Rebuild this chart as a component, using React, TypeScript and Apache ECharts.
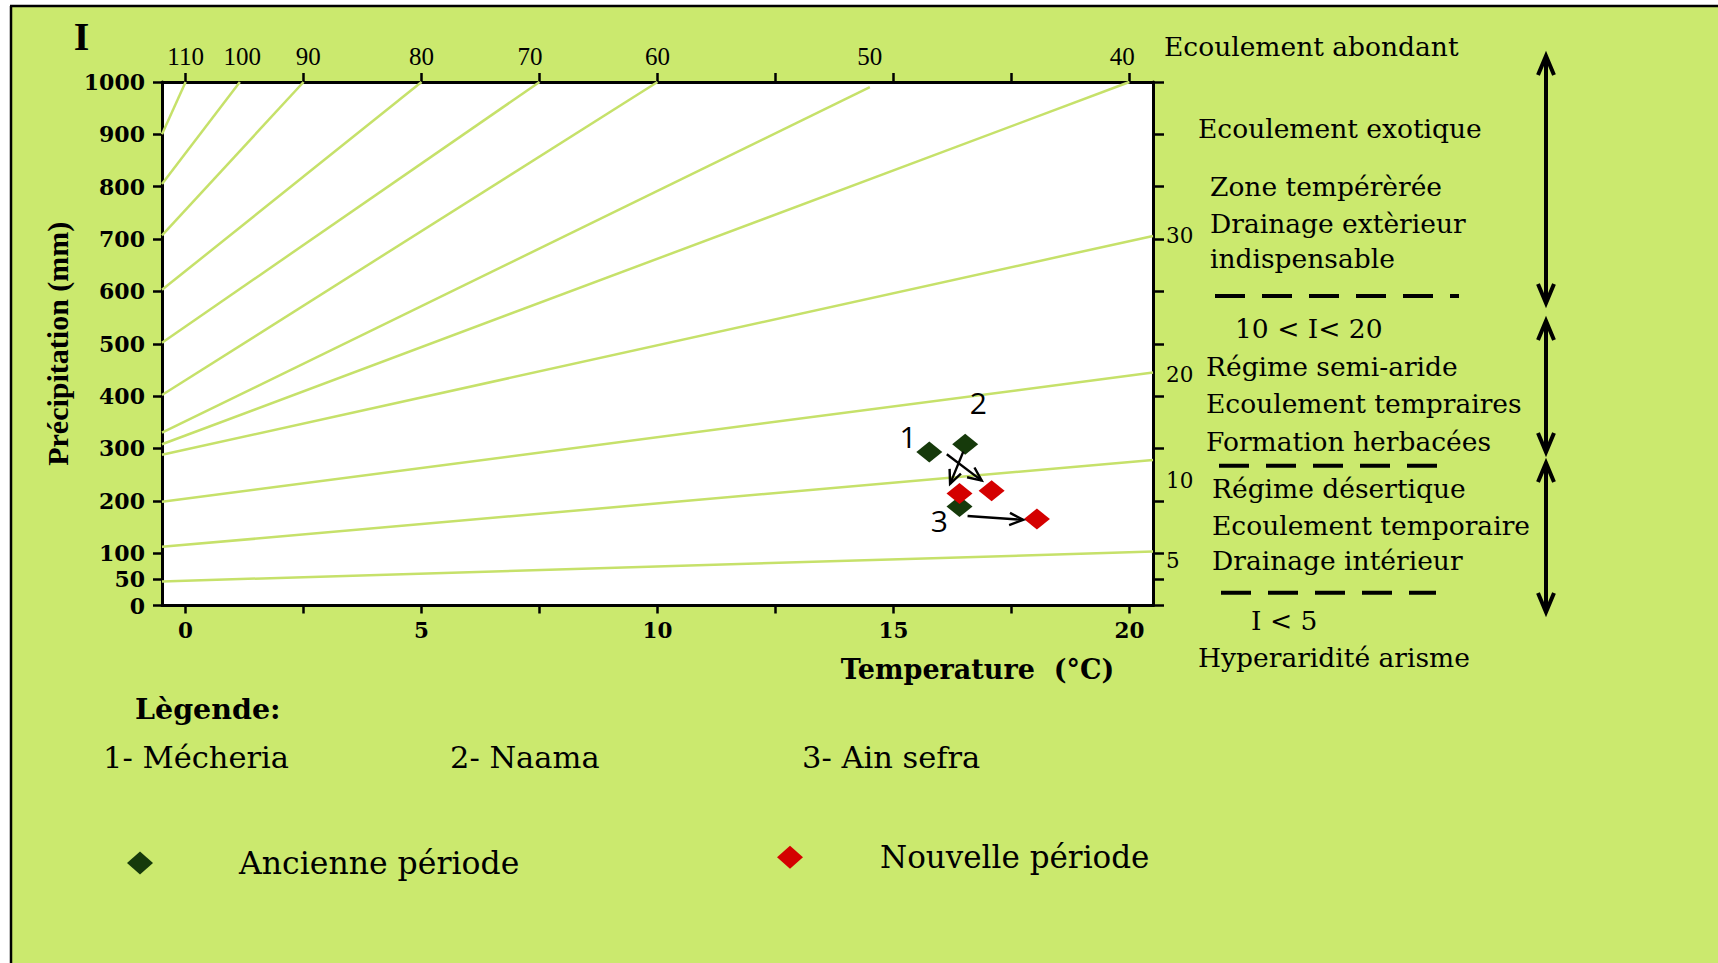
import React, { useEffect, useRef } from "react";
import * as echarts from "echarts";

// ---------- data ----------
const isoIndex = ["110", "100", "90", "80", "70", "60", "50", "40", "30", "20", "10", "5"];
const isoStart = [
  [-0.5, 900], [-0.5, 805], [-0.5, 707], [-0.5, 603], [-0.5, 502], [-0.5, 402],
  [-0.5, 330], [-0.5, 308], [-0.5, 288], [-0.5, 198], [-0.5, 112], [-0.5, 46],
];
const isoEnd = [
  [0, 1000], [1.15, 1000], [2.5, 1000], [5, 1000], [7.5, 1000], [10, 1000],
  [14.5, 990], [20, 1000], [20.5, 706], [20.5, 445], [20.5, 278], [20.5, 103],
];

const stationIds = ["1", "2", "3"];
const stationNames = ["1- Mécheria", "2- Naama", "3- Ain sefra"];
const ancienT = [15.76, 16.52, 16.40];
const ancienP = [293, 308, 189];
const nouvelleT = [17.08, 16.40, 18.04];
const nouvelleP = [219, 214, 165];
const idLabelT = [15.31, 16.8, 15.97];
const idLabelP = [323, 388, 162];
const arrowFrom = [[16.13, 289], [16.48, 294], [16.57, 171]];
const arrowTo = [[16.87, 238.6], [16.2, 232.3], [17.75, 163.5]];

const xTicks = [0, 2.5, 5, 7.5, 10, 12.5, 15, 17.5, 20];
const xLabels = [0, 5, 10, 15, 20];
const yTicks = [0, 50, 100, 200, 300, 400, 500, 600, 700, 800, 900, 1000];
const topLabelPos = [0, 1.2, 2.6, 5, 7.3, 10, 14.5, 19.85];
const topLabelText = ["110", "100", "90", "80", "70", "60", "50", "40"];
const rightLabelPos = [706, 441, 238, 86];
const rightLabelText = ["30", "20", "10", "5"];

const seriesNames = ["Ancienne période", "Nouvelle période"];

const zoneNotes = [
  "Ecoulement abondant",
  "Ecoulement exotique",
  "Zone tempérèrée",
  "Drainage extèrieur",
  "indispensable",
  "10 < I< 20",
  "Régime semi-aride",
  "Ecoulement tempraires",
  "Formation herbacées",
  "Régime désertique",
  "Ecoulement temporaire",
  "Drainage intérieur",
  "I < 5",
  "Hyperaridité arisme",
];

// ---------- layout / style ----------
const SERIF = "DejaVu Serif";
const TIMES = "Liberation Serif";
const BG = "#cbe96e";
const ISO = "#c6e16a";
const DARK = "#163a0b";
const RED = "#d40000";

const notePos = [
  [1164, 46], [1198, 128.5], [1210, 186], [1210, 223.5], [1210, 258.5],
  [1235, 328], [1206, 366], [1206, 403.5], [1206, 441], [1212, 488.5],
  [1212, 525.5], [1212, 560.5], [1251, 620.5], [1198, 657.5],
];
const stationLabelPos = [[103, 757.5], [450, 757.5], [802, 757.5]];

function buildOption() {
  const isoSeries = isoIndex.map((name, i) => ({
    type: "line",
    name: "I=" + name,
    data: [isoStart[i], isoEnd[i]],
    showSymbol: false,
    symbol: "none",
    silent: true,
    lineStyle: { color: ISO, width: 2.5 },
    z: 1,
  }));

  const graphics: any[] = [
    { type: "rect", z: -10, shape: { x: 11, y: 6, width: 1707, height: 957 }, style: { fill: BG } },
    { type: "line", z: 5, shape: { x1: 10, y1: 6, x2: 1718, y2: 6 }, style: { stroke: "#000", lineWidth: 2.5 } },
    { type: "line", z: 5, shape: { x1: 11, y1: 6, x2: 11, y2: 963 }, style: { stroke: "#000", lineWidth: 2.5 } },
    {
      type: "text", z: 5, x: 81.5, y: 36,
      style: { text: "I", font: `bold 40px "${TIMES}"`, fill: "#000", textAlign: "center", textVerticalAlign: "middle" },
    },
    {
      type: "text", z: 5, x: 135, y: 709,
      style: { text: "Lègende:", font: `bold 28.5px "${SERIF}"`, fill: "#000", textAlign: "left", textVerticalAlign: "middle" },
    },
  ];
  zoneNotes.forEach((t, i) => {
    graphics.push({
      type: "text", z: 5, x: notePos[i][0], y: notePos[i][1],
      style: { text: t, font: `26.5px "${SERIF}"`, fill: "#000", textAlign: "left", textVerticalAlign: "middle" },
    });
  });
  stationNames.forEach((t, i) => {
    graphics.push({
      type: "text", z: 5, x: stationLabelPos[i][0], y: stationLabelPos[i][1],
      style: { text: t, font: `30.5px "${SERIF}"`, fill: "#000", textAlign: "left", textVerticalAlign: "middle" },
    });
  });
  // dashed separators
  [[1215, 1459, 296], [1219, 1439, 465.7], [1221, 1436, 592.7]].forEach(([x1, x2, y]) => {
    graphics.push({
      type: "line", z: 5, shape: { x1, y1: y, x2, y2: y },
      style: { stroke: "#000", lineWidth: 4, lineDash: [30, 17] },
    });
  });
  // vertical double arrows
  const ax = 1546;
  [[56, 303], [321, 452], [463, 612]].forEach(([t, b]) => {
    graphics.push({ type: "line", z: 5, shape: { x1: ax, y1: t + 1, x2: ax, y2: b - 1 }, style: { stroke: "#000", lineWidth: 4 } });
    graphics.push({ type: "polyline", z: 5, shape: { points: [[ax - 8, t + 19], [ax, t], [ax + 8, t + 19]] }, style: { stroke: "#000", lineWidth: 4, fill: null } });
    graphics.push({ type: "polyline", z: 5, shape: { points: [[ax - 8, b - 19], [ax, b], [ax + 8, b - 19]] }, style: { stroke: "#000", lineWidth: 4, fill: null } });
  });

  const axisLine = { show: true, onZero: false, lineStyle: { color: "#000", width: 3 } };

  return {
    animation: false,
    backgroundColor: "#ffffff",
    grid: {
      left: 162, top: 82, width: 991, height: 523.5,
      show: true, backgroundColor: "#ffffff", borderWidth: 0,
      containLabel: false, outerBoundsMode: "none",
    },
    legend: [
      {
        data: [seriesNames[0]], left: 127, top: 847, padding: 0,
        icon: "diamond", itemWidth: 26, itemHeight: 23, selectedMode: false,
        itemStyle: { opacity: 1 },
        textStyle: { fontFamily: SERIF, fontSize: 31.5, color: "#000", padding: [20, 0, 0, 81] },
      },
      {
        data: [seriesNames[1]], left: 777, top: 841.7, padding: 0,
        icon: "diamond", itemWidth: 26, itemHeight: 23, selectedMode: false,
        itemStyle: { opacity: 1 },
        textStyle: { fontFamily: SERIF, fontSize: 31, color: "#000", padding: [9.4, 0, 0, 72] },
      },
    ],
    xAxis: [
      {
        type: "value", position: "bottom", min: -0.5, max: 20.5,
        axisLine, splitLine: { show: false },
        axisTick: { show: true, customValues: xTicks, length: 8, lineStyle: { color: "#000", width: 2.5 } },
        axisLabel: {
          customValues: xLabels, margin: 14, color: "#000",
          fontFamily: SERIF, fontWeight: "bold", fontSize: 21.5,
          formatter: (v: number) => String(v),
        },
        name: "Temperature  (°C)",
        nameLocation: "middle",
        nameGap: 50,
        nameTextStyle: {
          fontFamily: SERIF, fontWeight: "bold", fontSize: 27, color: "#000",
          padding: [0, 0, 0, 640],
        },
      },
      {
        type: "value", position: "top", min: -0.5, max: 20.5,
        axisLine, splitLine: { show: false },
        axisTick: { show: true, customValues: xTicks, length: 9, lineStyle: { color: "#000", width: 2.5 } },
        axisLabel: {
          customValues: topLabelPos, margin: 13, color: "#000",
          fontFamily: TIMES, fontSize: 25,
          formatter: (v: number) => topLabelText[topLabelPos.indexOf(v)] ?? "",
        },
      },
    ],
    yAxis: [
      {
        type: "value", position: "left", min: 0, max: 1000,
        axisLine, splitLine: { show: false },
        axisTick: { show: true, customValues: yTicks, length: 9, lineStyle: { color: "#000", width: 2.5 } },
        axisLabel: {
          customValues: yTicks, margin: 17, color: "#000",
          fontFamily: SERIF, fontWeight: "bold", fontSize: 22,
          formatter: (v: number) => String(v),
        },
        name: "Précipitation (mm)",
        nameLocation: "middle",
        nameRotate: 90,
        nameGap: 50,
        nameTextStyle: { fontFamily: TIMES, fontWeight: "bold", fontSize: 30, color: "#000" },
      },
      {
        type: "value", position: "right", min: 0, max: 1000,
        axisLine, splitLine: { show: false },
        axisTick: { show: true, customValues: yTicks, length: 11, lineStyle: { color: "#000", width: 2.5 } },
        axisLabel: {
          customValues: rightLabelPos, margin: 13, color: "#000",
          fontFamily: SERIF, fontSize: 21.5,
          formatter: (v: number) => rightLabelText[rightLabelPos.indexOf(v)] ?? "",
        },
      },
    ],
    graphic: graphics,
    series: [
      ...isoSeries,
      {
        type: "scatter",
        name: seriesNames[0],
        data: ancienT.map((t, i) => [t, ancienP[i]]),
        symbol: "diamond",
        symbolSize: [26, 21],
        itemStyle: { color: DARK, opacity: 1 },
        z: 3,
      },
      {
        type: "scatter",
        name: seriesNames[1],
        data: nouvelleT.map((t, i) => [t, nouvelleP[i]]),
        symbol: "diamond",
        symbolSize: [26, 21],
        itemStyle: { color: RED, opacity: 1 },
        z: 3,
      },
      {
        type: "custom",
        name: "arrows",
        data: arrowFrom.map((a, i) => [a[0], a[1], arrowTo[i][0], arrowTo[i][1]]),
        encode: { x: [0, 2], y: [1, 3] },
        silent: true,
        z: 4,
        renderItem: (params: any, api: any) => {
          const a = api.coord([api.value(0), api.value(1)]);
          const b = api.coord([api.value(2), api.value(3)]);
          const ang = Math.atan2(b[1] - a[1], b[0] - a[0]);
          const L = 15, w = 0.42;
          const h1 = [b[0] - L * Math.cos(ang - w), b[1] - L * Math.sin(ang - w)];
          const h2 = [b[0] - L * Math.cos(ang + w), b[1] - L * Math.sin(ang + w)];
          return {
            type: "group",
            children: [
              { type: "line", shape: { x1: a[0], y1: a[1], x2: b[0], y2: b[1] }, style: { stroke: "#000", lineWidth: 2.4 } },
              { type: "polyline", shape: { points: [h1, b, h2] }, style: { stroke: "#000", lineWidth: 2.4, fill: null } },
            ],
          };
        },
      },
      {
        type: "scatter",
        name: "ids",
        data: idLabelT.map((t, i) => [t, idLabelP[i], stationIds[i]]),
        symbolSize: 0,
        silent: true,
        z: 5,
        itemStyle: { opacity: 1 },
        label: {
          show: true,
          position: "inside",
          formatter: (p: any) => p.value[2],
          fontFamily: "Open Sans",
          fontSize: 30,
          color: "#000",
        },
      },
    ],
  };
}

export default function App() {
  const ref = useRef<HTMLDivElement>(null);
  useEffect(() => {
    document.body.style.margin = "0";
    const chart = echarts.init(ref.current!, null, { renderer: "svg" });
    chart.setOption(buildOption() as any);
    return () => chart.dispose();
  }, []);
  return (
    <div
      ref={ref}
      style={{ position: "fixed", left: 0, top: 0, width: 1718, height: 963, background: "#fff" }}
    />
  );
}
